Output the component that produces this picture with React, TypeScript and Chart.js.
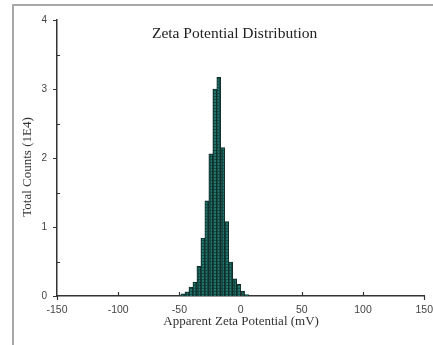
import React, { useEffect, useRef } from "react";
import { Chart, registerables } from "chart.js";

Chart.register(...registerables);

// Bin centres (mV) and counts (×1E4)
const zetaBins = [-47.1, -43.85, -40.6, -37.35, -34.1, -30.85, -27.6, -24.35, -21.1, -17.85, -14.6, -11.35, -8.1, -4.85, -1.6, 1.65, 4.9];
const counts = [0.03, 0.06, 0.13, 0.2, 0.43, 0.84, 1.38, 2.06, 3.0, 3.17, 2.15, 1.08, 0.49, 0.25, 0.17, 0.07, 0.02];

const xTicks = [-150, -100, -50, 0, 50, 100, 150];
const yTicks = [0, 1, 2, 3, 4];
const yMinorTicks = [0.5, 1.5, 2.5, 3.5];

const chartTitle = "Zeta Potential Distribution";
const xTitle = "Apparent Zeta Potential (mV)";
const yTitle = "Total Counts (1E4)";

function makePattern(): CanvasPattern | string {
  const c = document.createElement("canvas");
  c.width = 3;
  c.height = 3;
  const g = c.getContext("2d");
  if (!g) return "#1f645c";
  g.fillStyle = "#24736a";
  g.fillRect(0, 0, 3, 3);
  g.fillStyle = "#154a44";
  g.fillRect(0, 0, 1, 3);
  g.fillRect(0, 0, 3, 1);
  const p = g.createPattern(c, "repeat");
  return p || "#1f645c";
}

const decorPlugin = {
  id: "decor",
  beforeDraw(chart: any) {
    const ctx = chart.ctx;
    ctx.save();
    ctx.strokeStyle = "#a8a8a8";
    ctx.lineWidth = 2;
    ctx.beginPath();
    ctx.moveTo(13, 345);
    ctx.lineTo(13, 5);
    ctx.lineTo(441, 5);
    ctx.stroke();
    ctx.restore();
  },
  afterDraw(chart: any) {
    const ctx = chart.ctx;
    const { left, right, top, bottom } = chart.chartArea;
    const xs = chart.scales.x;
    const ys = chart.scales.y;
    ctx.save();
    ctx.strokeStyle = "#333";
    ctx.lineWidth = 1.2;
    ctx.beginPath();
    yTicks.forEach((v) => {
      const y = Math.round(ys.getPixelForValue(v)) + 0.5;
      ctx.moveTo(left - 4, y);
      ctx.lineTo(left, y);
    });
    yMinorTicks.forEach((v) => {
      const y = Math.round(ys.getPixelForValue(v)) + 0.5;
      ctx.moveTo(left, y);
      ctx.lineTo(left + 3, y);
    });
    xTicks.forEach((v, i) => {
      const x = Math.round(xs.getPixelForValue(v)) + 0.5;
      if (i === 0 || i === xTicks.length - 1) {
        ctx.moveTo(x, bottom);
        ctx.lineTo(x, bottom + 4);
      } else {
        ctx.moveTo(x, bottom);
        ctx.lineTo(x, bottom - 4);
      }
    });
    ctx.stroke();

    ctx.fillStyle = "#222";
    ctx.textAlign = "center";
    ctx.textBaseline = "middle";
    ctx.font = "15.5px 'Liberation Serif'";
    ctx.fillText(chartTitle, (left + right) / 2 - 6, top + 14);

    ctx.fillStyle = "#333";
    ctx.font = "13px 'Liberation Serif'";
    ctx.fillText(xTitle, (left + right) / 2 + 0.5, bottom + 26);

    ctx.save();
    ctx.translate(28, (top + bottom) / 2 + 9);
    ctx.rotate(-Math.PI / 2);
    ctx.font = "13px 'Liberation Serif'";
    ctx.fillText(yTitle, 0, 0);
    ctx.restore();
    ctx.restore();
  },
};

export default function App() {
  const ref = useRef<HTMLCanvasElement | null>(null);

  useEffect(() => {
    document.body.style.margin = "0";
    const canvas = ref.current;
    if (!canvas) return;
    const fill = makePattern();
    const chart = new Chart(canvas, {
      type: "bar",
      data: {
        datasets: [
          {
            data: zetaBins.map((x, i) => ({ x, y: counts[i] })),
            backgroundColor: fill as any,
            borderColor: "#0f2e2a",
            borderWidth: 1,
            barPercentage: 1,
            categoryPercentage: 1,
          },
        ],
      },
      options: {
        responsive: false,
        animation: false,
        devicePixelRatio: 1,
        layout: { padding: { left: 0, top: 20, right: 13, bottom: 0 } },
        plugins: {
          legend: { display: false },
          tooltip: { enabled: false },
          title: { display: false },
        },
        scales: {
          x: {
            type: "linear",
            min: -150,
            max: 150,
            offset: false,
            afterFit: (s: any) => {
              s.height = 49;
            },
            afterBuildTicks: (s: any) => {
              s.ticks = xTicks.map((v) => ({ value: v }));
            },
            grid: { display: false, drawTicks: false },
            border: { display: true, color: "#333", width: 1.5 },
            ticks: {
              padding: 8,
              color: "#444",
              font: { family: "'Liberation Sans'", size: 10.5 },
              maxRotation: 0,
            },
          },
          y: {
            type: "linear",
            min: 0,
            max: 4,
            afterFit: (s: any) => {
              s.width = 57;
            },
            afterBuildTicks: (s: any) => {
              s.ticks = yTicks.map((v) => ({ value: v }));
            },
            grid: { display: false, drawTicks: false },
            border: { display: true, color: "#333", width: 1.5 },
            ticks: {
              padding: 10,
              color: "#444",
              font: { family: "'Liberation Sans'", size: 10 },
            },
          },
        },
      },
      plugins: [decorPlugin],
    });
    return () => chart.destroy();
  }, []);

  return (
    <div style={{ position: "relative", width: 433, height: 345, overflow: "hidden", background: "#fff" }}>
      <canvas ref={ref} width={441} height={345} style={{ display: "block", width: 441, height: 345 }} />
    </div>
  );
}
